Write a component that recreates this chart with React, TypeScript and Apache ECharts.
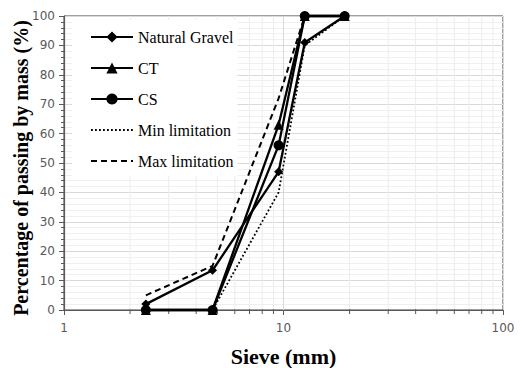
import React, { useEffect, useRef } from "react";
import * as echarts from "echarts";

const sieve = [2.36, 4.75, 9.5, 12.5, 19];
const naturalGravel = [2, 13.5, 47, 91, 100];
const ct = [0, 0, 63, 100, 100];
const cs = [0, 0, 56, 100, 100];
const minLimitation = [0, 0, 40, 90, 100];
const maxLimitation = [5, 15, 72, 100, 100];
const minorX = [2, 3, 4, 5, 6, 7, 8, 9, 20, 30, 40, 50, 60, 70, 80, 90];
const markedNames = ["Natural Gravel", "CT", "CS"];
const limitNames = ["Min limitation", "Max limitation"];

const pair = (ys: number[]) => sieve.map((x, i) => [x, ys[i]]);

export default function App() {
  const ref = useRef<HTMLDivElement>(null);
  useEffect(() => {
    if (!ref.current) return;
    const chart = echarts.init(ref.current, undefined, { renderer: "svg" });
    const serif = "Liberation Serif, Times New Roman, serif";
    const sans = "DejaVu Sans, Verdana, sans-serif";
    const solid = (name: string, ys: number[], symbol: string, size: number) => ({
      name,
      type: "line",
      data: pair(ys),
      symbol,
      symbolSize: size,
      clip: false,
      z: 3,
      itemStyle: { color: "#000" },
      lineStyle: { color: "#000", width: 2.3, type: "solid" },
    });
    chart.setOption({
      animation: false,
      backgroundColor: "#fff",
      grid: {
        left: 64,
        top: 16,
        right: 17,
        bottom: 58,
        containLabel: false,
        outerBoundsMode: "none",
        show: true,
        borderColor: "#404040",
        borderWidth: 1,
      },
      legend: {
        data: [
          ...markedNames.map((n) => ({ name: n })),
          ...limitNames.map((n) => ({ name: n, itemStyle: { opacity: 0 } })),
        ],
        orient: "vertical",
        left: 72,
        top: 20,
        itemWidth: 42,
        itemHeight: 14,
        itemGap: 15,
        padding: [9, 4, 7, 18],
        backgroundColor: "#fff",
        textStyle: { fontFamily: serif, fontSize: 16, color: "#000" },
      },
      xAxis: {
        type: "log",
        logBase: 10,
        min: 1,
        max: 100,
        name: "Sieve (mm)",
        nameLocation: "middle",
        nameGap: 35,
        nameMoveOverlap: false,
        nameTextStyle: { fontFamily: serif, fontSize: 22, fontWeight: "bold", color: "#000" },
        axisLine: { show: true, lineStyle: { color: "#595959", width: 1.2 } },
        axisTick: { show: true, length: 5, lineStyle: { color: "#595959" } },
        axisLabel: { fontFamily: sans, fontSize: 12, color: "#595959", margin: 12 },
        splitLine: { show: true, lineStyle: { color: "#d9d9d9", width: 1 } },
      },
      yAxis: {
        type: "value",
        min: 0,
        max: 100,
        interval: 10,
        name: "Percentage of passing by mass (%)",
        nameLocation: "middle",
        nameGap: 33,
        nameMoveOverlap: false,
        nameTextStyle: {
          fontFamily: serif,
          fontSize: 20,
          fontWeight: "bold",
          color: "#000",
          padding: [0, 10, 0, 0],
        },
        axisLine: { show: true, lineStyle: { color: "#595959", width: 1.2 } },
        axisTick: { show: true, length: 5, lineStyle: { color: "#595959" } },
        minorTick: { show: true, splitNumber: 5, length: 3, lineStyle: { color: "#595959" } },
        axisLabel: { fontFamily: sans, fontSize: 12, color: "#595959", margin: 9 },
        splitLine: { show: true, lineStyle: { color: "#d9d9d9", width: 1 } },
        minorSplitLine: { show: true, lineStyle: { color: "#f0f0f0", width: 1 } },
      },
      series: [
        {
          name: "minorGrid",
          type: "custom",
          silent: true,
          clip: false,
          z: 1,
          data: minorX.map((v) => [v, 0]),
          encode: { x: 0, y: 1 },
          renderItem: (params: any, api: any) => {
            const x = api.value(0);
            const p0 = api.coord([x, 0]);
            const p1 = api.coord([x, 100]);
            return {
              type: "group",
              children: [
                {
                  type: "line",
                  shape: { x1: p0[0], y1: p0[1], x2: p1[0], y2: p1[1] },
                  style: { stroke: "#ececec", lineWidth: 1 },
                },
                {
                  type: "line",
                  shape: { x1: p0[0], y1: p0[1] - 1, x2: p0[0], y2: p0[1] + 4 },
                  style: { stroke: "#595959", lineWidth: 1 },
                },
              ],
            };
          },
        },
        solid(markedNames[0], naturalGravel, "diamond", 9),
        solid(markedNames[1], ct, "triangle", 10),
        solid(markedNames[2], cs, "circle", 10),
        {
          name: limitNames[0],
          type: "line",
          data: pair(minLimitation),
          symbol: "none",
          clip: false,
          z: 3,
          itemStyle: { color: "#000" },
          lineStyle: { color: "#000", width: 1.8, type: [1.8, 2.2] },
        },
        {
          name: limitNames[1],
          type: "line",
          data: pair(maxLimitation),
          symbol: "none",
          clip: false,
          z: 3,
          itemStyle: { color: "#000" },
          lineStyle: { color: "#000", width: 2, type: [6, 4] },
        },
      ],
    });
    return () => chart.dispose();
  }, []);
  return (
    <div
      ref={ref}
      style={{ position: "fixed", left: 0, top: 0, width: 520, height: 368 }}
    />
  );
}
